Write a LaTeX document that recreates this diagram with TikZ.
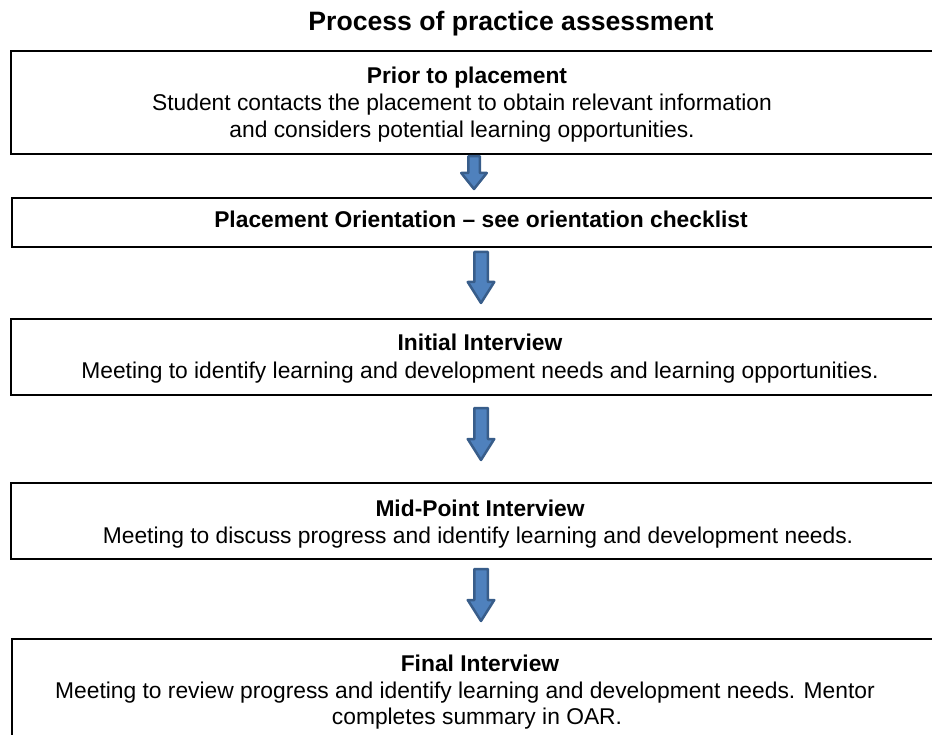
\documentclass[tikz,border=0pt]{standalone}
\usepackage{fontspec}
\setmainfont{Liberation Sans}
\usetikzlibrary{calc}
\definecolor{arrowfill}{HTML}{4F81BD}
\definecolor{arrowline}{HTML}{385D8A}
\tikzset{
  box/.style={draw=black, line width=2pt, rectangle, anchor=north west, inner sep=0pt},
  bodytext/.style={anchor=base, inner sep=0pt, font=\fontsize{22.8}{26.5}\selectfont},
  headtext/.style={anchor=base, inner sep=0pt, font=\fontsize{22.8}{26.5}\selectfont\bfseries},
  titletext/.style={anchor=base, inner sep=0pt, font=\fontsize{26.6}{30}\selectfont\bfseries},
  barrow/.style={draw=arrowline, fill=arrowfill, line width=2.5pt, line join=round}
}
\begin{document}
\begin{tikzpicture}[x=1pt, y=-1pt]
\useasboundingbox (0,0) rectangle (932,735);
\clip (0,0) rectangle (932,735);
% title
\node[titletext] (title) at (511,31) {Process of practice assessment};
% boxes
\node[box, minimum width=951pt, minimum height=103pt] (b1) at (10,50) {};
\node[box, minimum width=950pt, minimum height=49pt] (b2) at (11,197) {};
\node[box, minimum width=950pt, minimum height=76pt] (b3) at (10,318) {};
\node[box, minimum width=950pt, minimum height=76pt] (b4) at (10,482) {};
\node[box, minimum width=950pt, minimum height=130pt] (b5) at (11,638) {};
% texts
\node[headtext] (t1a) at (467,84) {Prior to placement};
\node[bodytext] (t1b) at (462,111) {Student contacts the placement to obtain relevant information};
\node[bodytext] (t1c) at (462,137.5) {and considers potential learning opportunities.};
\node[headtext] (t2a) at (481,228) {Placement Orientation – see orientation checklist};
\node[headtext] (t3a) at (480,351) {Initial Interview};
\node[bodytext] (t3b) at (480,378) {Meeting to identify learning and development needs and learning opportunities.};
\node[headtext] (t4a) at (480,516) {Mid-Point Interview};
\node[bodytext] (t4b) at (478,543) {Meeting to discuss progress and identify learning and development needs.};
\node[headtext] (t5a) at (480,671) {Final Interview};
\node[bodytext] (t5b) at (465,698) {Meeting to review progress and identify learning and development needs. Mentor};
\node[bodytext] (t5c) at (477,724) {completes summary in OAR.};
% arrow axes
\coordinate (c1) at (474,0);
\coordinate (c2) at (481,0);
% arrow end points
\coordinate (a1s) at ($(b1.south -| c1)+(0,1.25)$);
\coordinate (a1e) at ($(b2.north -| c1)+(0,-8)$);
\coordinate (a2s) at ($(b2.south -| c2)+(0,4)$);
\coordinate (a2e) at ($(b3.north -| c2)+(0,-15)$);
\coordinate (a3s) at ($(b3.south -| c2)+(0,12)$);
\coordinate (a3e) at ($(b4.north -| c2)+(0,-22)$);
\coordinate (a4s) at ($(b4.south -| c2)+(0,9)$);
\coordinate (a4e) at ($(b5.north -| c2)+(0,-17)$);
% block arrows
\path[barrow] let \p1=(a1s), \p2=(a1e) in
  (\x1-5.75pt,\y1) -- (\x1+5.75pt,\y1) -- (\x1+5.75pt,\y2+16pt) -- (\x1+12.75pt,\y2+16pt)
  -- (\x2,\y2) -- (\x1-12.75pt,\y2+16pt) -- (\x1-5.75pt,\y2+16pt) -- cycle;
\foreach \s/\e in {a2s/a2e, a3s/a3e, a4s/a4e}{
  \path[barrow] let \p1=(\s), \p2=(\e) in
    (\x1-6.75pt,\y1) -- (\x1+6.75pt,\y1) -- (\x1+6.75pt,\y2+21pt) -- (\x1+13.25pt,\y2+21pt)
    -- (\x2,\y2) -- (\x1-13.25pt,\y2+21pt) -- (\x1-6.75pt,\y2+21pt) -- cycle;
}
\end{tikzpicture}
\end{document}
